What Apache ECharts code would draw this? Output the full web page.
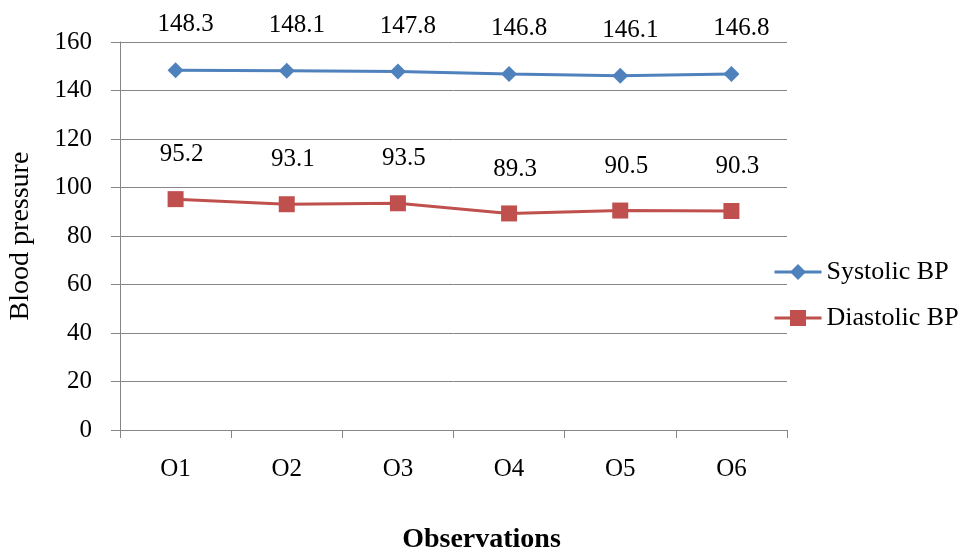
<!DOCTYPE html>
<html>
<head>
<meta charset="utf-8">
<script src="https://cdn.jsdelivr.net/npm/echarts@6/dist/echarts.min.js"></script>
<style>html,body{margin:0;padding:0;background:#fff;}#c{width:966px;height:548px;}</style>
</head>
<body>
<div id="c"></div>
<script>
var categories = ['O1', 'O2', 'O3', 'O4', 'O5', 'O6'];
var systolic = [148.3, 148.1, 147.8, 146.8, 146.1, 146.8];
var diastolic = [95.2, 93.1, 93.5, 89.3, 90.5, 90.3];
var seriesNames = ['Systolic BP', 'Diastolic BP'];

var font = '"Liberation Serif", "Times New Roman", serif';
var chart = echarts.init(document.getElementById('c'));
chart.setOption({
  animation: false,
  backgroundColor: '#fff',
  grid: { left: 120, right: 179, top: 42, height: 388, outerBoundsMode: 'none', containLabel: false },
  legend: {
    orient: 'vertical',
    left: 773, top: 259, padding: 0,
    itemWidth: 47, itemHeight: 20, itemGap: 20,
    data: seriesNames,
    lineStyle: { width: 3 },
    textStyle: { fontFamily: font, fontSize: 26, color: '#000' }
  },
  xAxis: {
    type: 'category',
    data: categories,
    boundaryGap: true,
    name: 'Observations',
    nameLocation: 'middle',
    nameGap: 96,
    nameTextStyle: { fontFamily: font, fontSize: 28, fontWeight: 'bold', color: '#000', padding: [0,0,0,56] },
    axisLine: { lineStyle: { color: '#868686', width: 1 } },
    axisTick: { show: true, length: 8, inside: false, lineStyle: { color: '#868686' } },
    axisLabel: { fontFamily: font, fontSize: 25, color: '#000', margin: 27 }
  },
  yAxis: {
    type: 'value',
    min: 0, max: 160, interval: 20,
    name: 'Blood pressure',
    nameLocation: 'middle',
    nameGap: 85,
    nameTextStyle: { fontFamily: font, fontSize: 28, color: '#000' },
    axisLine: { show: true, lineStyle: { color: '#868686', width: 1 } },
    axisTick: { show: true, length: 9, lineStyle: { color: '#868686' } },
    axisLabel: { fontFamily: font, fontSize: 25, color: '#000', margin: 28 },
    splitLine: { lineStyle: { color: '#868686', width: 1 } }
  },
  series: [
    {
      name: seriesNames[0], type: 'line', data: systolic,
      symbol: 'diamond', symbolSize: 16,
      itemStyle: { color: '#4F81BD' },
      lineStyle: { color: '#4F81BD', width: 3 },
      label: { show: true, position: 'top', distance: 25, offset: [10, 0], fontFamily: font, fontSize: 25, color: '#000',
        formatter: function (p) { return p.value.toFixed(1); } }
    },
    {
      name: seriesNames[1], type: 'line', data: diastolic,
      symbol: 'rect', symbolSize: 16,
      itemStyle: { color: '#C0504D' },
      lineStyle: { color: '#C0504D', width: 3 },
      label: { show: true, position: 'top', distance: 24, offset: [6, 0], fontFamily: font, fontSize: 25, color: '#000',
        formatter: function (p) { return p.value.toFixed(1); } }
    }
  ]
});
</script>
</body>
</html>
